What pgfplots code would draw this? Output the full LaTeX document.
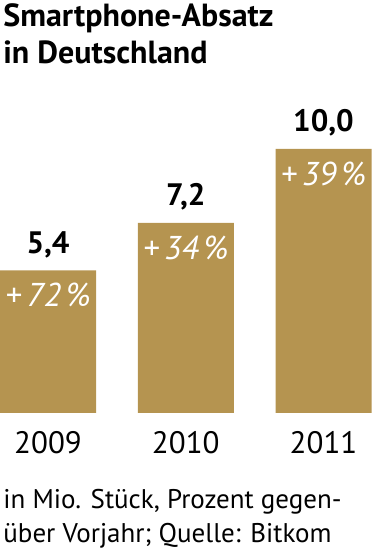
\documentclass[border=0pt]{standalone}
\usepackage{fontspec}
\setmainfont{PT Sans}
\usepackage{pgfplots}
\pgfplotsset{compat=1.18}
\definecolor{gold}{HTML}{B59450}
\begin{document}
\begin{tikzpicture}
\begin{axis}[
  scale only axis, width=186pt, height=277.5pt,
  xmin=-0.3486, xmax=2.352,
  ymin=-5.379, ymax=15.64,
  hide axis, clip=false,
  ybar, bar width=48pt, bar shift=0pt,
  nodes near coords,
  /pgf/number format/.cd, use comma, fixed, fixed zerofill, precision=1, assume math mode=true,
  /pgfplots/.cd,
  every node near coord/.append style={font=\fontsize{15.5}{18}\selectfont\bfseries, text=black, anchor=center, yshift=13pt, inner sep=0pt},
]
\addplot[fill=gold, draw=none] coordinates {(0,5.4) (1,7.2) (2,10.0)};
\begin{scope}[every node/.style={font=\fontsize{16.5}{18}\selectfont\itshape, text=white, inner sep=0pt, anchor=center, yshift=-12.5pt}]
\node at (axis cs:0,5.4) {+\,72\,\%};
\node at (axis cs:1,7.2) {+\,34\,\%};
\node at (axis cs:2,10.0) {+\,39\,\%};
\end{scope}
\begin{scope}[every node/.style={font=\fontsize{15.5}{18}\selectfont, text=black, inner sep=0pt, anchor=center}]
\node at (axis cs:0,-1.136) {2009};
\node at (axis cs:1,-1.136) {2010};
\node at (axis cs:2,-1.136) {2011};
\end{scope}
\begin{scope}[every node/.style={font=\fontsize{16}{19}\selectfont\bfseries, text=black, inner sep=0pt, anchor=base west}]
\node at (rel axis cs:0.008,0.9514) {Smartphone-Absatz};
\node at (rel axis cs:0.008,0.8847) {in Deutschland};
\end{scope}
\begin{scope}[every node/.style={font=\fontsize{13.5}{15}\selectfont, text=black, inner sep=0pt, anchor=base west}]
\node at (rel axis cs:0.008,0.0829) {in Mio. Stück, Prozent gegen-};
\node at (rel axis cs:0.008,0.0234) {über Vorjahr; Quelle: Bitkom};
\end{scope}
\end{axis}
\pgfresetboundingbox
\path[use as bounding box] (current axis.south west) rectangle (current axis.north east);
\end{tikzpicture}
\end{document}
